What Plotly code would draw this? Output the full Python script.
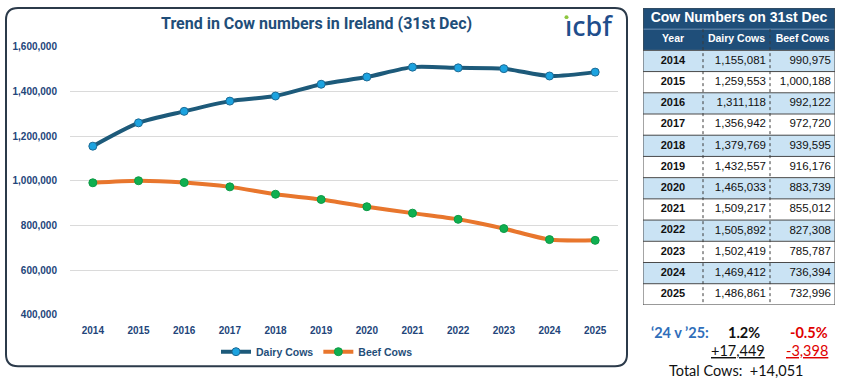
import plotly.graph_objects as go

years = [2014, 2015, 2016, 2017, 2018, 2019, 2020, 2021, 2022, 2023, 2024, 2025]
dairy = [1155081, 1259553, 1311118, 1356942, 1379769, 1432557, 1465033,
         1509217, 1505892, 1502419, 1469412, 1486861]
beef = [990975, 1000188, 992122, 972720, 939595, 916176, 883739,
        855012, 827308, 785787, 736394, 732996]
y_ticks = [400000, 600000, 800000, 1000000, 1200000, 1400000, 1600000]

title = "Trend in Cow numbers in Ireland (31st Dec)"
table_title = "Cow Numbers on 31st Dec"
table_headers = ["Year", "Dairy Cows", "Beef Cows"]
pct_dairy = "1.2%"
pct_beef = "-0.5%"
chg_dairy = "+17,449"
chg_beef = "-3,398"
total_chg = "Total Cows:  +14,051"

W, H = 845, 382


def px(x):
    return x / W


def py(y):
    return 1 - y / H


NAVY = "#1F4E79"
TICK = "#23457A"
LIGHT = "#CAE3F4"

fig = go.Figure()

fig.add_trace(go.Scatter(
    x=years, y=dairy, name="Dairy Cows", mode="lines+markers",
    line=dict(color="#1D5A7A", width=4, shape="spline", smoothing=0.7),
    marker=dict(color="#1CA3E0", size=8, line=dict(color="#1D6A94", width=1)),
))
fig.add_trace(go.Scatter(
    x=years, y=beef, name="Beef Cows", mode="lines+markers",
    line=dict(color="#E8762D", width=4, shape="spline", smoothing=0.7),
    marker=dict(color="#0FAF50", size=8, line=dict(color="#0C9A45", width=1)),
))

# ---- Table drawn on its own axes (x2 / y2) ----
col_edges = [0, 60, 127, 192]
n = len(years)
row_edges = list(range(n + 3))  # title row, header row, data rows
z = [[2, 2, 2], [2, 2, 2]] + [[1, 1, 1] if i % 2 == 0 else [0, 0, 0] for i in range(n)]
fig.add_trace(go.Heatmap(
    x=col_edges, y=row_edges, z=z, xaxis="x2", yaxis="y2",
    zmin=0, zmax=2, showscale=False, hoverinfo="skip",
    colorscale=[[0, "#FFFFFF"], [0.5, LIGHT], [1, NAVY]],
))
row_centers = [i + 2.5 for i in range(n)]
col_centers = [(col_edges[i] + col_edges[i + 1]) / 2 for i in range(3)]
fig.add_trace(go.Scatter(
    x=[col_centers[0]] * n, y=row_centers, mode="text",
    text=[f"<b>{y}</b>" for y in years], textposition="middle center",
    textfont=dict(family="Liberation Sans", size=11, color="#111111"),
    xaxis="x2", yaxis="y2", showlegend=False, hoverinfo="skip", cliponaxis=False,
))
fig.add_trace(go.Scatter(
    x=[col_edges[2] - 4] * n, y=row_centers, mode="text",
    text=[f"{v:,}" for v in dairy], textposition="middle left",
    textfont=dict(family="Liberation Sans", size=11.5, color="#111111"),
    xaxis="x2", yaxis="y2", showlegend=False, hoverinfo="skip", cliponaxis=False,
))
fig.add_trace(go.Scatter(
    x=[col_edges[3] - 4] * n, y=row_centers, mode="text",
    text=[f"{v:,}" for v in beef], textposition="middle left",
    textfont=dict(family="Liberation Sans", size=11.5, color="#111111"),
    xaxis="x2", yaxis="y2", showlegend=False, hoverinfo="skip", cliponaxis=False,
))
fig.add_trace(go.Scatter(
    x=col_centers, y=[1.5] * 3, mode="text",
    text=[f"<b>{h}</b>" for h in table_headers], textposition="middle center",
    textfont=dict(family="Liberation Sans", size=10.5, color="white"),
    xaxis="x2", yaxis="y2", showlegend=False, hoverinfo="skip", cliponaxis=False,
))
fig.add_trace(go.Scatter(
    x=[col_edges[3] / 2], y=[0.5], mode="text",
    text=[f"<b>{table_title}</b>"], textposition="middle center",
    textfont=dict(family="Liberation Sans", size=14, color="white"),
    xaxis="x2", yaxis="y2", showlegend=False, hoverinfo="skip", cliponaxis=False,
))

shapes = []
# chart border (rounded rect)
x0, x1, y0, y1, r = 6, 627, 3, 371, 12
rx, ry = r / W, r / H
X0, X1, Y0, Y1 = px(x0), px(x1), py(y0), py(y1)
path = (f"M {X0+rx},{Y0} L {X1-rx},{Y0} Q {X1},{Y0} {X1},{Y0-ry} "
        f"L {X1},{Y1+ry} Q {X1},{Y1} {X1-rx},{Y1} "
        f"L {X0+rx},{Y1} Q {X0},{Y1} {X0},{Y1+ry} "
        f"L {X0},{Y0-ry} Q {X0},{Y0} {X0+rx},{Y0} Z")
shapes.append(dict(type="path", path=path, xref="paper", yref="paper",
                   line=dict(color="#2B3A4A", width=2), layer="below"))
# table lines
for k in range(2, n + 2):
    shapes.append(dict(type="line", xref="x2", yref="y2", x0=0, x1=192, y0=k, y1=k,
                       line=dict(color="#4A4A4A", width=1)))
shapes.append(dict(type="line", xref="x2", yref="y2", x0=0, x1=192, y0=1, y1=1,
                   line=dict(color="#6F8FB5", width=1)))
for cx in col_edges[1:3]:
    shapes.append(dict(type="line", xref="x2", yref="y2", x0=cx, x1=cx, y0=1, y1=n + 2,
                       line=dict(color="#3A3A3A", width=1, dash="dot")))
shapes.append(dict(type="rect", xref="x2", yref="y2", x0=0, x1=192, y0=0, y1=n + 2,
                   line=dict(color="#4A4A4A", width=1)))
# logo dot
shapes.append(dict(type="circle", xref="paper", yref="paper",
                   x0=px(564.5), x1=px(568.5), y0=py(14.5), y1=py(10.5),
                   fillcolor="#8DC63F", line=dict(width=0)))

annotations = [
    dict(text=f"<b>{title}</b>", x=px(316), y=py(19), xref="paper", yref="paper",
         showarrow=False, xanchor="center", yanchor="middle",
         font=dict(family="Roboto", size=16, color=NAVY)),
    dict(text="ıcbf", x=px(589), y=py(21), xref="paper", yref="paper",
         showarrow=False, xanchor="center", yanchor="middle",
         font=dict(family="Noto Sans", size=27, color="#1F4E8C", weight=500)),
    dict(text="<b>‘24 v ’25:</b>", x=px(649), y=py(336), xref="paper", yref="paper",
         showarrow=False, xanchor="left", yanchor="middle",
         font=dict(family="Lato", size=14.5, color="#2F6EBA")),
    dict(text=f"<b>{pct_dairy}</b>", x=px(762), y=py(336), xref="paper", yref="paper",
         showarrow=False, xanchor="right", yanchor="middle",
         font=dict(family="Lato", size=14.5, color="#111111")),
    dict(text=f"<b>{pct_beef}</b>", x=px(830), y=py(336), xref="paper", yref="paper",
         showarrow=False, xanchor="right", yanchor="middle",
         font=dict(family="Lato", size=14.5, color="#E00000")),
    dict(text=f"<u>{chg_dairy}</u>", x=px(767), y=py(355), xref="paper", yref="paper",
         showarrow=False, xanchor="right", yanchor="middle",
         font=dict(family="Lato", size=14.5, color="#111111")),
    dict(text=f"<u>{chg_beef}</u>", x=px(830), y=py(355), xref="paper", yref="paper",
         showarrow=False, xanchor="right", yanchor="middle",
         font=dict(family="Lato", size=14.5, color="#E00000")),
    dict(text=total_chg, x=px(736), y=py(375), xref="paper", yref="paper",
         showarrow=False, xanchor="center", yanchor="middle",
         font=dict(family="Lato", size=14.5, color="#111111")),
]

fig.update_layout(
    width=W, height=H,
    margin=dict(l=0, r=0, t=0, b=0),
    paper_bgcolor="white", plot_bgcolor="white",
    shapes=shapes, annotations=annotations,
    showlegend=True,
    legend=dict(orientation="h", x=px(317), xanchor="center", y=py(356),
                yanchor="middle", font=dict(family="Liberation Sans", size=10.5,
                                            color=NAVY, weight="bold"),
                itemwidth=30, bgcolor="rgba(0,0,0,0)"),
    xaxis=dict(domain=[px(70), px(618)], range=[2013.5, 2025.5],
               tickvals=years, showgrid=False, zeroline=False, showline=False,
               ticklabelstandoff=8,
               tickfont=dict(family="Liberation Sans", size=10, color=TICK,
                             weight="bold")),
    yaxis=dict(domain=[py(318), py(43)], range=[400000, 1600000],
               tickvals=y_ticks, tickformat=",", showgrid=True,
               gridcolor="#DADADA", gridwidth=1, zeroline=False, showline=False,
               ticklabelstandoff=12,
               tickfont=dict(family="Liberation Sans", size=10, color=TICK,
                             weight="bold")),
    xaxis2=dict(domain=[px(643), px(835)], range=[0, 192], visible=False,
                anchor="y2", fixedrange=True),
    yaxis2=dict(domain=[py(308), py(3)], range=[n + 2, 0], visible=False,
                anchor="x2", fixedrange=True),
)

fig.write_html("out.html")
